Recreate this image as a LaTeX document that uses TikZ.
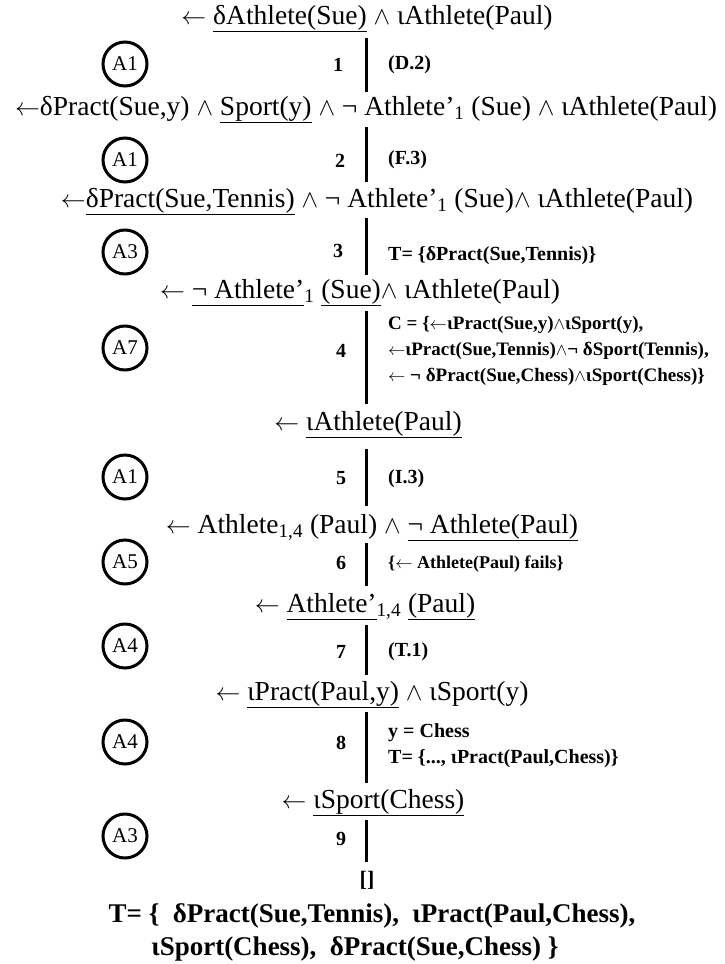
\documentclass[tikz,border=0pt]{standalone}
\usepackage{fontspec}
\setmainfont{Liberation Serif}
\newcommand\lar{$\leftarrow$}
\newcommand\wdg{\ $\wedge$\ }
\newcommand\twdg{$\wedge$}
\newcommand\ul[1]{\underline{#1\vphantom{(}}}
\tikzset{
  row/.style={anchor=base, inner sep=0pt, font=\fontsize{27.5}{32}\selectfont},
  stepnum/.style={anchor=base, inner sep=0pt, font=\bfseries\fontsize{20}{24}\selectfont},
  note/.style={anchor=base west, inner sep=0pt, font=\bfseries\fontsize{20}{24}\selectfont},
  cnote/.style={note, font=\bfseries\fontsize{19}{24}\selectfont},
  rulec/.style={circle, draw, line width=3pt, minimum size=44pt, inner sep=0pt, font=\fontsize{21}{24}\selectfont},
  stem/.style={line width=3pt},
  final/.style={anchor=base, inner sep=0pt, font=\bfseries\fontsize{27}{32}\selectfont},
}
\begin{document}
\begin{tikzpicture}[x=1pt,y=-1pt]
\useasboundingbox (0,0) rectangle (725,964);
% goal rows
\node[row] (r0) at (367,24) {\lar\ \ul{δAthlete(Sue)}\wdg ιAthlete(Paul)};
\node[row] (r1) at (366,115) {\lar δPract(Sue,y)\wdg \ul{Sport(y)}\wdg ¬ Athlete'\textsubscript{1} (Sue)\wdg ιAthlete(Paul)};
\node[row] (r2) at (377,207) {\lar\ul{δPract(Sue,Tennis)}\wdg ¬ Athlete'\textsubscript{1} (Sue)\twdg\ ιAthlete(Paul)};
\node[row] (r3) at (360,298) {\lar\ \ul{¬ Athlete'}\textsubscript{1} \ul{(Sue)}\twdg\ ιAthlete(Paul)};
\node[row] (r4) at (368,430) {\lar\ \ul{ιAthlete(Paul)}};
\node[row] (r5) at (372,533) {\lar\ Athlete\textsubscript{1,4} (Paul)\wdg \ul{¬ Athlete(Paul)}};
\node[row] (r6) at (365,612) {\lar\ \ul{Athlete'}\textsubscript{1,4} \ul{(Paul)}};
\node[row] (r7) at (372,700) {\lar\ \ul{ιPract(Paul,y)}\wdg ιSport(y)};
\node[row] (r8) at (373,808) {\lar\ \ul{ιSport(Chess)}};
\node[stepnum, font=\bfseries\fontsize{22}{26}\selectfont] (r9) at (367,886) {[]};
% stems
\coordinate (s1t) at (366,38);  \coordinate (s1b) at (366,92);
\coordinate (s2t) at (366,127); \coordinate (s2b) at (366,182);
\coordinate (s3t) at (366,218); \coordinate (s3b) at (366,275);
\coordinate (s4t) at (366,311); \coordinate (s4b) at (366,404);
\coordinate (s5t) at (366,449); \coordinate (s5b) at (366,506);
\coordinate (s6t) at (366,543); \coordinate (s6b) at (366,586);
\coordinate (s7t) at (366,625); \coordinate (s7b) at (366,675);
\coordinate (s8t) at (366,712); \coordinate (s8b) at (366,783);
\coordinate (s9t) at (366,820); \coordinate (s9b) at (366,862);
\foreach \i in {1,...,9} {\draw[stem] (s\i t) -- (s\i b);}
% step numbers
\node[stepnum] (n1) at (338,71) {1};
\node[stepnum] (n2) at (340,167) {2};
\node[stepnum] (n3) at (338,257) {3};
\node[stepnum] (n4) at (341,357) {4};
\node[stepnum] (n5) at (341,484) {5};
\node[stepnum] (n6) at (341,569) {6};
\node[stepnum] (n7) at (341,658) {7};
\node[stepnum] (n8) at (341,749) {8};
\node[stepnum] (n9) at (341,845) {9};
% rule circles
\node[rulec] (c1) at (125,64) {A1};
\node[rulec] (c2) at (125,160) {A1};
\node[rulec] (c3) at (125,252) {A3};
\node[rulec] (c4) at (125,348) {A7};
\node[rulec] (c5) at (125,477) {A1};
\node[rulec] (c6) at (125,562) {A5};
\node[rulec] (c7) at (125,646) {A4};
\node[rulec] (c8) at (125,742) {A4};
\node[rulec] (c9) at (125,836) {A3};
% notes
\node[note] (t1) at (388,69) {(D.2)};
\node[note] (t2) at (388,164) {(F.3)};
\node[note] (t3) at (388,260) {T= \{δPract(Sue,Tennis)\}};
\node[cnote] (t4a) at (388,329) {C = \{\lar ιPract(Sue,y)\twdg ιSport(y),};
\node[cnote] (t4b) at (388,355) {\lar ιPract(Sue,Tennis)\twdg¬ δSport(Tennis),};
\node[cnote] (t4c) at (388,381) {\lar\ ¬ δPract(Sue,Chess)\twdg ιSport(Chess)\}};
\node[note] (t5) at (388,483) {(I.3)};
\node[note, font=\bfseries\fontsize{18}{22}\selectfont] (t6) at (388,568) {\{\lar\ Athlete(Paul) fails\}};
\node[note] (t7) at (388,656) {(T.1)};
\node[note] (t8a) at (388,737) {y = Chess};
\node[note] (t8b) at (388,763) {T= \{..., ιPract(Paul,Chess)\}};
% final set
\node[final] (f1) at (372,922) {T= \{\ \ δPract(Sue,Tennis),\ \ ιPract(Paul,Chess),};
\node[final] (f2) at (355,955) {ιSport(Chess),\ \ δPract(Sue,Chess) \}};
\end{tikzpicture}
\end{document}
